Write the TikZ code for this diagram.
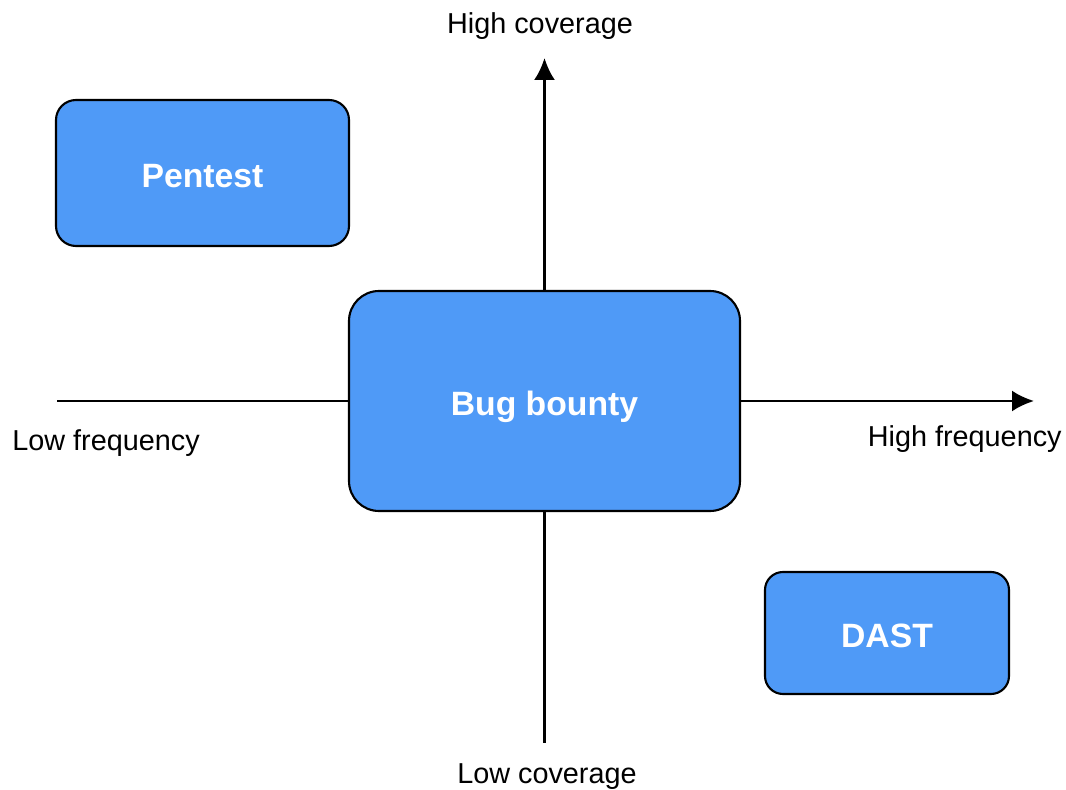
\documentclass[tikz,border=0pt]{standalone}
\usepackage{fontspec}
\setmainfont{Liberation Sans}
\usetikzlibrary{arrows.meta}
\definecolor{boxblue}{RGB}{79,154,247}

\tikzset{
	quadbox/.style={draw=black, line width=1.2pt, fill=boxblue, text=white, font=\fontsize{19.2}{23}\selectfont\bfseries, inner sep=0pt, text height=0.6cm, text depth=0pt},
	axislabel/.style={font=\fontsize{16.4}{20}\selectfont, inner sep=0pt},
	axisline/.style={line width=1.5pt}
}

\begin{document}
\begin{tikzpicture}[x=0.02cm, y=-0.02cm, >={Latex[length=4.4mm, width=4.2mm]}]
	\useasboundingbox (0,0) rectangle (1066,790);
	% boxes
	\node[quadbox, minimum width=293*0.02cm, minimum height=146*0.02cm, rounded corners=0.4cm] (pentest) at (202.5,173) {Pentest};
	\node[quadbox, minimum width=391*0.02cm, minimum height=220*0.02cm, rounded corners=0.6cm] (bugbounty) at (544.5,401) {Bug bounty};
	\node[quadbox, minimum width=244*0.02cm, minimum height=122*0.02cm, rounded corners=0.36cm] (dast) at (887,633) {DAST};
	% axis ends
	\coordinate (top) at (544.5,58);
	\coordinate (bottom) at (544.5,743);
	\coordinate (left) at (57,401);
	\coordinate (right) at (1034,401);
	\draw[->, axisline] (bugbounty.north) -- (top);
	\draw[axisline] (bugbounty.south) -- (bottom);
	\draw[axisline] (left) -- (bugbounty.west);
	\draw[->, axisline] (bugbounty.east) -- (right);
	% labels
	\node[axislabel, anchor=base] (highcov) at (540,34) {High coverage};
	\node[axislabel, anchor=base] (lowcov) at (547,784) {Low coverage};
	\node[axislabel, anchor=base west] (lowfreq) at (12,451) {Low frequency};
	\node[axislabel, anchor=base east] (highfreq) at (1062,447) {High frequency};
\end{tikzpicture}
\end{document}
